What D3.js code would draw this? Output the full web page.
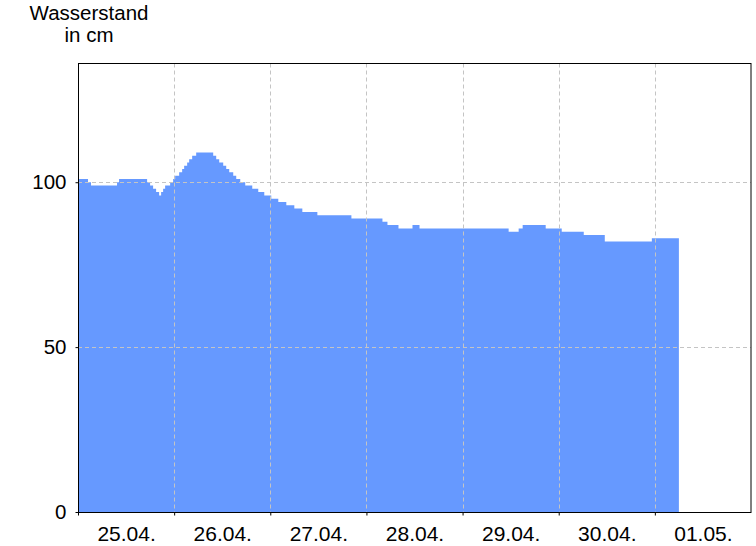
<!DOCTYPE html>
<html>
<head>
<meta charset="utf-8">
<script src="https://cdn.jsdelivr.net/npm/d3@7"></script>
<style>
  html, body { margin: 0; padding: 0; background: #fff; }
  svg { display: block; font-family: "Liberation Sans", Arial, sans-serif; }
</style>
</head>
<body>
<svg id="chart" width="756" height="546"></svg>
<script>
// ---- data ----
const startDate = "2024-04-25T00:00";
const endDate = "2024-05-02T00:00";
// hours since 25.04. 00:00 at which the water level changes (step data)
const hours = [0, 2.5, 3.25, 9.75, 10.25, 17.25, 18, 18.75, 19.5, 20.25, 20.75, 21.25, 21.75, 23, 23.75,
  24.25, 25.25, 26, 26.5, 27.25, 27.75, 28.5, 29.5, 33.75, 34.5, 35.25, 36.25, 37, 37.75, 38.75, 39.5,
  40.5, 41.75, 43.5, 45, 46.5, 48.25, 50, 52, 54, 56, 59.75, 68.25, 76, 77.25, 80, 83.5, 85.25,
  107.5, 110, 111, 116.75, 120.75, 126.25, 131.5, 143.25, 150];
const levels = [101, 100, 99, 100, 101, 100, 99, 98, 97, 96, 97, 98, 99, 100, 101,
  102, 103, 104, 105, 106, 107, 108, 109, 108, 107, 106, 105, 104, 103, 102, 101,
  100, 99, 98, 97, 96, 95, 94, 93, 92, 91, 90, 89, 88, 87, 86, 87, 86,
  85, 86, 87, 86, 85, 84, 82, 83, 83];
const yTicks = [0, 50, 100];
const yMax = 136;
const titleLines = ["Wasserstand", "in cm"];

// ---- layout ----
const svg = d3.select("#chart");
const margin = { left: 78, right: 5, top: 63.5, bottom: 34 };
const W = 756, H = 546;
const x0 = margin.left, x1 = W - margin.right, y0 = H - margin.bottom, y1 = margin.top;

const t0 = new Date(startDate);
const t1 = new Date(endDate);
const x = d3.scaleTime().domain([t0, t1]).range([x0, x1]);
const y = d3.scaleLinear().domain([0, yMax]).range([y0, y1]);

const data = hours.map((h, i) => ({ t: new Date(t0.getTime() + h * 3600e3), v: levels[i] }));

// area
const area = d3.area()
  .curve(d3.curveStepAfter)
  .x(d => x(d.t))
  .y0(y(0))
  .y1(d => y(d.v));
svg.append("path")
  .datum(data)
  .attr("d", area)
  .attr("fill", "#6699ff");

// grid lines
const days = d3.timeDay.range(t0, t1);
const grid = svg.append("g").attr("stroke", "#c4c4c4").attr("stroke-dasharray", "4,3").attr("stroke-width", 1);
grid.selectAll("line.v")
  .data(days.slice(1))
  .join("line")
  .attr("x1", d => Math.round(x(d)) + 0.5).attr("x2", d => Math.round(x(d)) + 0.5)
  .attr("y1", y1).attr("y2", y0);
grid.selectAll("line.h")
  .data(yTicks.filter(v => v > 0))
  .join("line")
  .attr("x1", x0).attr("x2", x1)
  .attr("y1", d => Math.round(y(d)) + 0.5).attr("y2", d => Math.round(y(d)) + 0.5);

// frame
svg.append("rect")
  .attr("x", x0 + 0.5).attr("y", y1)
  .attr("width", x1 - x0 - 0.5).attr("height", y0 - y1 + 0.5)
  .attr("fill", "none").attr("stroke", "#000").attr("stroke-width", 1);

// x axis ticks at day boundaries
const xTickAxis = d3.axisBottom(x).tickValues(days).tickSizeInner(3).tickSizeOuter(0).tickFormat("");
const gx = svg.append("g").attr("transform", `translate(0,${y0 + 0.5})`).call(xTickAxis);
gx.select(".domain").remove();
gx.selectAll(".tick line").attr("stroke", "#000");

// x labels centered at noon
const noons = days.map(d => d3.timeHour.offset(d, 12));
const xLabelAxis = d3.axisBottom(x).tickValues(noons).tickSize(0).tickPadding(0).tickFormat(d3.timeFormat("%d.%m."));
const gxl = svg.append("g").attr("transform", `translate(0,${y0})`).call(xLabelAxis);
gxl.select(".domain").remove();
gxl.selectAll(".tick text")
  .attr("font-family", "Liberation Sans, Arial, sans-serif")
  .attr("font-size", 21)
  .attr("fill", "#000")
  .attr("dy", null)
  .attr("y", 28.5);

// y axis
const yAxis = d3.axisLeft(y).tickValues(yTicks).tickSizeInner(3).tickSizeOuter(0).tickPadding(9);
const gy = svg.append("g").attr("transform", `translate(${x0 + 0.5},0)`).call(yAxis);
gy.select(".domain").remove();
gy.selectAll(".tick line").attr("stroke", "#000");
gy.selectAll(".tick text")
  .attr("font-family", "Liberation Sans, Arial, sans-serif")
  .attr("font-size", 20.5)
  .attr("fill", "#000");

// title
svg.append("text")
  .attr("x", 89).attr("y", 20)
  .attr("text-anchor", "middle")
  .attr("font-size", 20.5)
  .selectAll("tspan")
  .data(titleLines)
  .join("tspan")
  .attr("x", 89)
  .attr("dy", (d, i) => i === 0 ? 0 : 21.5)
  .text(d => d);
</script>
</body>
</html>
